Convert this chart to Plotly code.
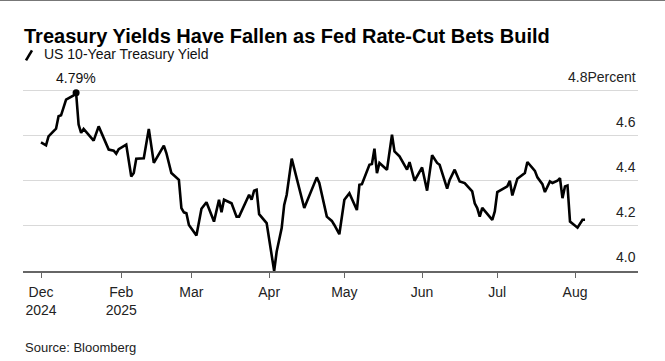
import plotly.graph_objects as go

# ---- data ----
dates = [
    "2024-12-31", "2025-01-02", "2025-01-03", "2025-01-06", "2025-01-07", "2025-01-08",
    "2025-01-10", "2025-01-13", "2025-01-14", "2025-01-15", "2025-01-16", "2025-01-17",
    "2025-01-21", "2025-01-23", "2025-01-27", "2025-01-29", "2025-01-30", "2025-01-31",
    "2025-02-03", "2025-02-05", "2025-02-06", "2025-02-07", "2025-02-10", "2025-02-12",
    "2025-02-14", "2025-02-18", "2025-02-19", "2025-02-21", "2025-02-24", "2025-02-25",
    "2025-02-26", "2025-02-27", "2025-02-28", "2025-03-03", "2025-03-05", "2025-03-07",
    "2025-03-10", "2025-03-12", "2025-03-13", "2025-03-14", "2025-03-17", "2025-03-19",
    "2025-03-20", "2025-03-24", "2025-03-25", "2025-03-26", "2025-03-27", "2025-03-28",
    "2025-03-31", "2025-04-01", "2025-04-02", "2025-04-03", "2025-04-04", "2025-04-06",
    "2025-04-07", "2025-04-08", "2025-04-10", "2025-04-15", "2025-04-20", "2025-04-21",
    "2025-04-24", "2025-04-26", "2025-04-27", "2025-04-29", "2025-05-01", "2025-05-03",
    "2025-05-06", "2025-05-07", "2025-05-08", "2025-05-11", "2025-05-12", "2025-05-13",
    "2025-05-14", "2025-05-15", "2025-05-18", "2025-05-20", "2025-05-21", "2025-05-23",
    "2025-05-26", "2025-05-27", "2025-05-29", "2025-06-01", "2025-06-03", "2025-06-05",
    "2025-06-07", "2025-06-08", "2025-06-11", "2025-06-12", "2025-06-14", "2025-06-16",
    "2025-06-18", "2025-06-21", "2025-06-22", "2025-06-23", "2025-06-24", "2025-06-25",
    "2025-06-29", "2025-06-30", "2025-07-01", "2025-07-05", "2025-07-06", "2025-07-07",
    "2025-07-09", "2025-07-12", "2025-07-13", "2025-07-15", "2025-07-16", "2025-07-17",
    "2025-07-19", "2025-07-20", "2025-07-22", "2025-07-23", "2025-07-25", "2025-07-26",
    "2025-07-27", "2025-07-28", "2025-07-29", "2025-07-30", "2025-08-02", "2025-08-04",
    "2025-08-05",
]
yields = [
    4.570, 4.557, 4.597, 4.631, 4.686, 4.690,
    4.760, 4.778, 4.790, 4.649, 4.612, 4.630,
    4.578, 4.641, 4.538, 4.533, 4.520, 4.540,
    4.560, 4.419, 4.434, 4.498, 4.500, 4.630,
    4.479, 4.556, 4.523, 4.434, 4.404, 4.279,
    4.260, 4.256, 4.204, 4.157, 4.276, 4.305,
    4.219, 4.316, 4.260, 4.316, 4.300, 4.241,
    4.241, 4.338, 4.316, 4.356, 4.360, 4.252,
    4.212, 4.145, 4.086, 4.000, 4.086, 4.190,
    4.293, 4.338, 4.498, 4.279, 4.415, 4.390,
    4.241, 4.222, 4.204, 4.163, 4.316, 4.345,
    4.270, 4.382, 4.385, 4.471, 4.474, 4.542,
    4.434, 4.479, 4.449, 4.604, 4.530, 4.508,
    4.449, 4.483, 4.400, 4.459, 4.356, 4.513,
    4.479, 4.471, 4.365, 4.404, 4.449, 4.397,
    4.390, 4.353, 4.300, 4.279, 4.241, 4.280,
    4.227, 4.264, 4.350, 4.375, 4.400, 4.335,
    4.409, 4.434, 4.483, 4.456, 4.444, 4.415,
    4.385, 4.350, 4.397, 4.390, 4.400, 4.412,
    4.323, 4.375, 4.379, 4.219, 4.192, 4.227,
    4.227,
]
series_name = "US 10-Year Treasury Yield"
x_tick_vals = ["2024-12-31", "2025-02-01", "2025-03-01", "2025-04-01",
               "2025-05-01", "2025-06-01", "2025-07-01", "2025-08-01"]
x_tick_text = ["Dec<br>2024", "Feb<br>2025", "Mar", "Apr", "May", "Jun", "Jul", "Aug"]
y_tick_vals = [4.0, 4.2, 4.4, 4.6, 4.8]
y_tick_text = ["4.0", "4.2", "4.4", "4.6", "4.8Percent"]
peak_label = "4.79%"

# ---- layout geometry ----
W, H = 665, 361
L, R = 23, 27
B = 90
Y_RANGE = [4.0, 4.82]
plot_h = (Y_RANGE[1] - Y_RANGE[0]) * 225.0
T = H - B - plot_h
plot_w = W - L - R


def px_to_paper_x(px):
    return (px - L) / plot_w


def px_to_paper_y(py):
    return (H - B - py) / plot_h


FONT = "Liberation Sans, Arial, sans-serif"

peak_i = max(range(len(yields)), key=lambda i: yields[i])

fig = go.Figure()
fig.add_trace(go.Scatter(
    x=dates, y=yields, mode="lines", name=series_name,
    line=dict(color="#000000", width=2.6), showlegend=False,
    hoverinfo="x+y", cliponaxis=False,
))
fig.add_trace(go.Scatter(
    x=[dates[peak_i]], y=[yields[peak_i]], mode="markers",
    marker=dict(color="#000000", size=7), showlegend=False,
    cliponaxis=False, hoverinfo="skip",
))

fig.add_annotation(
    x=dates[peak_i], y=yields[peak_i], text=peak_label, showarrow=False,
    yanchor="bottom", yshift=5, font=dict(family=FONT, size=14, color="#111111"),
)

# y tick labels (right-aligned, sitting above their gridlines)
for v, t in zip(y_tick_vals, y_tick_text):
    fig.add_annotation(
        xref="paper", yref="y", x=px_to_paper_x(638), y=v, text=t,
        showarrow=False, xanchor="right", yanchor="middle", yshift=14,
        font=dict(family=FONT, size=14, color="#222222"),
    )

# legend (custom, diagonal line icon)
fig.add_shape(type="line", xref="paper", yref="paper",
              x0=px_to_paper_x(26), x1=px_to_paper_x(32),
              y0=px_to_paper_y(61), y1=px_to_paper_y(51),
              line=dict(color="#000000", width=2.6))
fig.add_annotation(
    xref="paper", yref="paper", x=px_to_paper_x(42), y=px_to_paper_y(55),
    xanchor="left", yanchor="middle", text=series_name, showarrow=False,
    font=dict(family=FONT, size=14, color="#111111"),
)

# source
fig.add_annotation(
    xref="paper", yref="paper", x=px_to_paper_x(23), y=px_to_paper_y(347),
    xanchor="left", yanchor="middle", text="Source: Bloomberg", showarrow=False,
    font=dict(family=FONT, size=13, color="#222222"),
)

# top border line
fig.add_shape(type="line", xref="paper", yref="paper",
              x0=px_to_paper_x(0), x1=px_to_paper_x(W),
              y0=px_to_paper_y(0.8), y1=px_to_paper_y(0.8),
              line=dict(color="#777777", width=2))

fig.update_layout(
    width=W, height=H,
    margin=dict(l=L, r=R, t=T, b=B, pad=0),
    paper_bgcolor="#ffffff", plot_bgcolor="#ffffff",
    title=dict(
        text="<b>Treasury Yields Have Fallen as Fed Rate-Cut Bets Build</b>",
        xref="container", yref="container", x=24 / W, xanchor="left",
        y=1 - 36 / H, yanchor="middle",
        font=dict(family=FONT, size=20, color="#000000"),
    ),
    font=dict(family=FONT, size=14, color="#222222"),
    xaxis=dict(
        type="date",
        range=["2024-12-23 19:40", "2025-08-26 03:00"],
        tickmode="array", tickvals=x_tick_vals, ticktext=x_tick_text,
        ticks="outside", ticklen=5, tickcolor="#666666", tickwidth=1,
        showline=True, linecolor="#666666", linewidth=1.5,
        showgrid=False, zeroline=False,
        tickfont=dict(family=FONT, size=14, color="#222222"),
        ticklabelstandoff=2,
    ),
    yaxis=dict(
        range=Y_RANGE, side="right",
        tickmode="array", tickvals=y_tick_vals,
        showticklabels=False, ticks="",
        showgrid=True, gridcolor="#d9d9d9", gridwidth=1,
        zeroline=False, showline=False,
    ),
)

fig.write_html(
    "out.html",
    config={"displayModeBar": False},
    post_script="document.body.style.margin='0px';document.body.style.overflow='hidden';",
)
